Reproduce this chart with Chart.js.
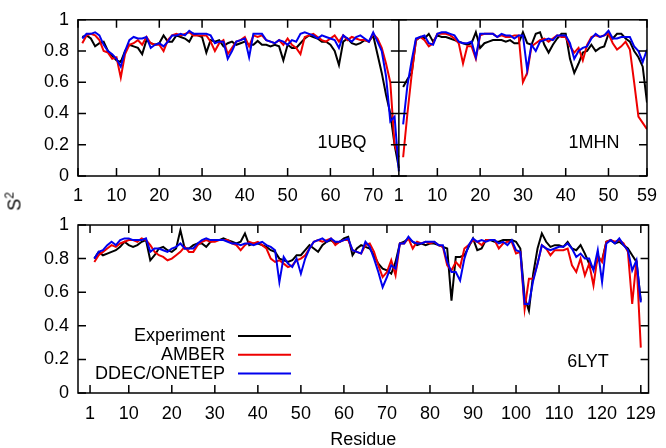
<!DOCTYPE html>
<html>
<head>
<meta charset="utf-8">
<script src="https://cdn.jsdelivr.net/npm/chart.js@4.4.1/dist/chart.umd.min.js"></script>
<style>
body { margin: 0; background: #fff; }
#wrap { position: relative; width: 666px; height: 448px; background: #fff; font-family: "Liberation Sans", Arial, sans-serif; }
#top { position: absolute; left: 0; top: 0; }
#bottom { position: absolute; left: 0; top: 205px; }
#ylab { position: absolute; left: -8px; top: 188px; width: 40px; text-align: center; font-size: 18px; line-height: 22px; transform: rotate(-90deg); color: #000; }
#ylab sup { font-size: 12px; }
</style>
</head>
<body>
<div id="wrap">
  <canvas id="top" width="666" height="205"></canvas>
  <canvas id="bottom" width="666" height="243"></canvas>
  <div id="ylab">S<sup>2</sup></div>
</div>
<script>
// series labels
var seriesNames = ['Experiment', 'AMBER', 'DDEC/ONETEP'];
var seriesColors = ['#000000', '#ee0000', '#0000ee'];

// tick labels
var ubqTicks = [1, 10, 20, 30, 40, 50, 60, 70];
var mhnTicks = [1, 10, 20, 30, 40, 50, 59];
var lytTicks = [1, 10, 20, 30, 40, 50, 60, 70, 80, 90, 100, 110, 120, 129];
var yTicks = [0, 0.2, 0.4, 0.6, 0.8, 1];

// 1UBQ, residues 1-76
var ubqExp = [null, 0.89, 0.90, 0.88, 0.83, 0.85, 0.86, 0.80, 0.77, 0.74,
  0.73, 0.80, 0.84, 0.83, 0.82, 0.78, 0.87, 0.85, 0.84, 0.85,
  0.90, 0.86, 0.86, 0.90, 0.89, 0.88, 0.86, 0.91, 0.90, 0.89,
  0.79, 0.87, 0.86, 0.87, 0.83, 0.85, 0.86, 0.84, 0.85, 0.86,
  0.84, 0.84, 0.865, 0.84, 0.84, 0.83, 0.84, 0.83, 0.74, 0.84,
  0.82, 0.82, 0.85, 0.88, 0.90, 0.89, 0.88, 0.86, 0.86, 0.84,
  0.80, 0.71, 0.86, 0.88, 0.85, 0.84, 0.85, 0.87, 0.86, 0.90,
  0.78, 0.66, 0.52, 0.40, 0.20, 0.05];
var ubqAmber = [null, 0.85, 0.90, 0.91, 0.90, 0.87, 0.80, 0.79, 0.75, 0.76,
  0.63, 0.78, 0.84, 0.85, 0.87, 0.84, 0.89, 0.85, 0.84, 0.84,
  0.80, 0.87, 0.90, 0.91, 0.90, 0.91, 0.92, 0.90, 0.90, 0.90,
  0.90, 0.86, 0.80, 0.85, 0.87, 0.78, 0.82, 0.86, 0.87, 0.89,
  0.83, 0.90, 0.89, 0.90, 0.87, 0.86, 0.85, 0.87, 0.84, 0.88,
  0.84, 0.82, 0.78, 0.89, 0.90, 0.91, 0.89, 0.87, 0.86, 0.88,
  0.90, 0.86, 0.90, 0.87, 0.89, 0.88, 0.87, 0.87, 0.86, 0.91,
  0.88, 0.82, 0.72, 0.60, 0.20, 0.12];
var ubqDdec = [null, 0.88, 0.91, 0.91, 0.92, 0.90, 0.84, 0.80, 0.78, 0.75,
  0.70, 0.80, 0.87, 0.89, 0.88, 0.88, 0.89, 0.82, 0.84, 0.85,
  0.83, 0.86, 0.90, 0.90, 0.91, 0.90, 0.93, 0.91, 0.91, 0.91,
  0.91, 0.90, 0.85, 0.86, 0.86, 0.75, 0.80, 0.86, 0.87, 0.88,
  0.76, 0.91, 0.91, 0.91, 0.87, 0.86, 0.85, 0.87, 0.86, 0.84,
  0.87, 0.86, 0.91, 0.92, 0.91, 0.90, 0.88, 0.90, 0.89, 0.88,
  0.87, 0.82, 0.90, 0.88, 0.86, 0.89, 0.90, 0.88, 0.86, 0.92,
  0.86, 0.80, 0.64, 0.35, 0.38, 0.03];

// 1MHN, residues 1-59
var mhnExp = [null, 0.57, 0.62, 0.66, 0.87, 0.89, 0.88, 0.91, 0.86, 0.90,
  0.89, 0.89, 0.88, 0.87, 0.86, 0.85, 0.84, 0.85, 0.92, 0.82,
  0.85, 0.86, 0.87, 0.87, 0.87, 0.86, 0.87, 0.85, 0.85, 0.92,
  0.85, 0.84, 0.91, 0.92, 0.84, 0.79, 0.84, 0.88, 0.91, 0.91,
  0.75, 0.66, 0.72, 0.79, 0.80, 0.84, 0.80, 0.82, 0.83, 0.91,
  0.88, 0.91, 0.91, 0.88, 0.86, 0.80, 0.76, 0.70, 0.47];
var mhnAmber = [null, 0.12, 0.40, 0.65, 0.87, 0.89, 0.87, 0.83, 0.85, 0.91,
  0.91, 0.91, 0.90, 0.88, 0.85, 0.72, 0.83, 0.83, 0.75, 0.90,
  0.91, 0.91, 0.91, 0.89, 0.90, 0.89, 0.89, 0.90, 0.90, 0.60,
  0.66, 0.83, 0.85, 0.87, 0.88, 0.86, 0.88, 0.90, 0.89, 0.89,
  0.83, 0.79, 0.82, 0.74, 0.84, 0.89, 0.90, 0.89, 0.90, 0.91,
  0.85, 0.81, 0.83, 0.86, 0.81, 0.60, 0.38, 0.34, 0.30];
var mhnDdec = [null, 0.33, 0.58, 0.74, 0.88, 0.89, 0.90, 0.85, 0.84, 0.91,
  0.92, 0.92, 0.91, 0.90, 0.86, 0.85, 0.85, 0.86, 0.76, 0.91,
  0.91, 0.91, 0.91, 0.89, 0.91, 0.90, 0.90, 0.88, 0.90, 0.90,
  0.68, 0.84, 0.80, 0.86, 0.87, 0.88, 0.87, 0.90, 0.90, 0.90,
  0.85, 0.75, 0.80, 0.82, 0.83, 0.88, 0.91, 0.89, 0.90, 0.93,
  0.88, 0.88, 0.89, 0.89, 0.89, 0.83, 0.80, 0.73, 0.81];

// 6LYT, residues 1-129
var lytExp = [null, 0.80, 0.84, 0.82, 0.83, 0.84, 0.85, 0.87, 0.90, 0.88,
  0.87, 0.88, 0.90, 0.91, 0.79, 0.82, 0.86, 0.87, 0.85, 0.84,
  0.86, 0.97, 0.86, 0.86, 0.88, 0.89, 0.89, 0.87, 0.90, 0.91,
  0.91, 0.92, 0.91, 0.90, 0.89, 0.90, 0.95, 0.88, 0.89, 0.89,
  0.88, 0.87, 0.85, 0.84, 0.80, 0.79, 0.78, 0.79, 0.82, 0.82,
  0.85, 0.88, 0.86, 0.84, 0.88, 0.90, 0.91, 0.89, 0.90, 0.92,
  0.93, 0.82, 0.86, 0.88, 0.87, 0.86, 0.82, 0.77, 0.74, 0.73,
  0.71, 0.78, 0.89, 0.90, 0.92, 0.90, 0.88, 0.89, 0.88, 0.89,
  0.89, 0.88, 0.87, 0.86, 0.55, 0.81, 0.81, 0.82, 0.87, 0.92,
  0.85, 0.86, 0.91, 0.91, 0.90, 0.90, 0.91, 0.91, 0.91, 0.90,
  0.86, 0.57, 0.49, 0.71, 0.86, 0.95, 0.90, 0.87, 0.88, 0.88,
  0.87, 0.90, 0.86, 0.85, 0.88, 0.83, 0.77, 0.74, 0.79, 0.79,
  0.90, 0.91, 0.89, 0.90, 0.88, 0.86, 0.82, 0.78, 0.55];
var lytAmber = [null, 0.78, 0.82, 0.84, 0.86, 0.88, 0.87, 0.89, 0.90, 0.91,
  0.91, 0.90, 0.92, 0.91, 0.88, 0.84, 0.82, 0.81, 0.79, 0.80,
  0.82, 0.84, 0.87, 0.84, 0.84, 0.88, 0.90, 0.91, 0.90, 0.90,
  0.91, 0.91, 0.91, 0.89, 0.88, 0.85, 0.88, 0.90, 0.89, 0.90,
  0.88, 0.86, 0.80, 0.78, 0.79, 0.77, 0.75, 0.76, 0.79, 0.80,
  0.82, 0.86, 0.90, 0.91, 0.90, 0.91, 0.92, 0.88, 0.90, 0.91,
  0.91, 0.85, 0.84, 0.83, 0.88, 0.89, 0.84, 0.76, 0.69, 0.72,
  0.79, 0.70, 0.89, 0.89, 0.92, 0.86, 0.90, 0.89, 0.90, 0.89,
  0.90, 0.88, 0.87, 0.76, 0.73, 0.78, 0.75, 0.86, 0.88, 0.91,
  0.90, 0.88, 0.91, 0.91, 0.91, 0.86, 0.89, 0.90, 0.90, 0.83,
  0.84, 0.50, 0.68, 0.68, 0.77, 0.88, 0.86, 0.82, 0.85, 0.85,
  0.85, 0.86, 0.76, 0.72, 0.80, 0.70, 0.77, 0.64, 0.82, 0.78,
  0.90, 0.91, 0.90, 0.91, 0.89, 0.84, 0.53, 0.79, 0.27];
var lytDdec = [null, 0.80, 0.84, 0.85, 0.88, 0.90, 0.88, 0.91, 0.92, 0.92,
  0.91, 0.91, 0.91, 0.92, 0.84, 0.86, 0.86, 0.85, 0.84, 0.86,
  0.87, 0.89, 0.86, 0.86, 0.86, 0.89, 0.91, 0.92, 0.91, 0.91,
  0.91, 0.91, 0.90, 0.89, 0.89, 0.88, 0.89, 0.89, 0.88, 0.89,
  0.90, 0.88, 0.87, 0.85, 0.66, 0.81, 0.77, 0.75, 0.80, 0.71,
  0.80, 0.86, 0.90, 0.91, 0.92, 0.90, 0.92, 0.90, 0.90, 0.91,
  0.92, 0.85, 0.84, 0.83, 0.90, 0.87, 0.80, 0.72, 0.63, 0.69,
  0.76, 0.74, 0.89, 0.89, 0.93, 0.90, 0.89, 0.89, 0.90, 0.90,
  0.90, 0.88, 0.88, 0.78, 0.72, 0.72, 0.67, 0.80, 0.88, 0.92,
  0.90, 0.91, 0.90, 0.91, 0.91, 0.89, 0.90, 0.88, 0.91, 0.85,
  0.84, 0.53, 0.53, 0.67, 0.77, 0.88, 0.86, 0.85, 0.86, 0.87,
  0.87, 0.89, 0.86, 0.81, 0.83, 0.80, 0.80, 0.73, 0.85, 0.66,
  0.89, 0.91, 0.89, 0.92, 0.88, 0.85, 0.73, 0.79, 0.54];

// 1MHN is drawn right after 1UBQ on the same axis
var mhnOffset = 75;

Chart.defaults.font.family = '"Liberation Sans", Arial, sans-serif';
Chart.defaults.font.size = 18;
Chart.defaults.color = '#000';

function toPoints(vals, offset) {
  return vals.map(function (v, i) { return { x: i + 1 + offset, y: v }; });
}

function lineSet(label, vals, k, offset) {
  return {
    label: label,
    data: toPoints(vals, offset),
    borderColor: seriesColors[k],
    borderWidth: 2,
    pointRadius: 0,
    fill: false,
    tension: 0,
    order: 3 - k
  };
}

// frame, inward ticks, panel names and legend, gnuplot style
var framePlugin = {
  id: 'frame',
  afterDatasetsDraw: function (chart, args, opts) {
    var ctx = chart.ctx, a = chart.chartArea;
    var xs = chart.scales.x, ys = chart.scales.y;
    var tl = 8;
    ctx.save();
    ctx.strokeStyle = '#000';
    ctx.lineWidth = 1.5;
    ctx.strokeRect(a.left, a.top, a.right - a.left, a.bottom - a.top);
    ctx.beginPath();
    xs.ticks.forEach(function (t) {
      var px = xs.getPixelForValue(t.value);
      ctx.moveTo(px, a.bottom); ctx.lineTo(px, a.bottom - tl);
      ctx.moveTo(px, a.top); ctx.lineTo(px, a.top + tl);
    });
    ys.ticks.forEach(function (t) {
      var py = ys.getPixelForValue(t.value);
      ctx.moveTo(a.left, py); ctx.lineTo(a.left + tl, py);
      ctx.moveTo(a.right, py); ctx.lineTo(a.right - tl, py);
      if (opts.split) {
        var sx = xs.getPixelForValue(opts.split);
        ctx.moveTo(sx - tl, py); ctx.lineTo(sx + tl, py);
      }
    });
    if (opts.split) {
      var sx2 = xs.getPixelForValue(opts.split);
      ctx.moveTo(sx2, a.top); ctx.lineTo(sx2, a.bottom);
    }
    ctx.stroke();

    ctx.fillStyle = '#000';
    ctx.font = '18px "Liberation Sans", Arial, sans-serif';
    ctx.textBaseline = 'alphabetic';
    ctx.textAlign = 'center';
    (opts.names || []).forEach(function (n) { ctx.fillText(n.text, n.x, n.y); });

    if (opts.legend) {
      var lg = opts.legend;
      ctx.textBaseline = 'middle';
      ctx.textAlign = 'right';
      seriesNames.forEach(function (name, k) {
        var yy = lg.y + k * lg.gap;
        ctx.fillText(name, lg.x, yy);
        ctx.strokeStyle = seriesColors[k];
        ctx.lineWidth = 2;
        ctx.beginPath();
        ctx.moveTo(lg.x + 13, yy); ctx.lineTo(lg.x + 66, yy);
        ctx.stroke();
      });
    }
    if (opts.xTitle) {
      ctx.textAlign = 'center';
      ctx.textBaseline = 'alphabetic';
      ctx.fillText(opts.xTitle.text, (a.left + a.right) / 2, opts.xTitle.y);
    }
    ctx.restore();
  }
};

function makeOptions(xMin, xMax, tickVals, labelFn, xHeight, xPad, padTop, frameOpts) {
  return {
    responsive: false,
    animation: false,
    events: [],
    layout: { padding: { top: padTop, right: 13, left: 0, bottom: 0 } },
    scales: {
      x: {
        type: 'linear', min: xMin, max: xMax,
        grid: { display: false, drawTicks: false },
        border: { display: false },
        afterBuildTicks: function (s) { s.ticks = tickVals.map(function (v) { return { value: v }; }); },
        afterFit: function (s) { s.height = xHeight; },
        ticks: { autoSkip: false, maxRotation: 0, padding: xPad, callback: labelFn }
      },
      y: {
        min: 0, max: 1,
        grid: { display: false, drawTicks: false },
        border: { display: false },
        afterBuildTicks: function (s) { s.ticks = yTicks.map(function (v) { return { value: v }; }); },
        afterFit: function (s) { s.width = 78; },
        ticks: { padding: 9, callback: function (v) { return String(+v.toFixed(1)); } }
      }
    },
    plugins: { legend: { display: false }, tooltip: { enabled: false }, frame: frameOpts }
  };
}

var topTickVals = ubqTicks.concat(mhnTicks.map(function (r) { return r + mhnOffset; }));

new Chart(document.getElementById('top'), {
  type: 'line',
  data: {
    datasets: [
      lineSet(seriesNames[0], ubqExp, 0, 0),
      lineSet(seriesNames[1], ubqAmber, 1, 0),
      lineSet(seriesNames[2], ubqDdec, 2, 0),
      lineSet(seriesNames[0], mhnExp, 0, mhnOffset),
      lineSet(seriesNames[1], mhnAmber, 1, mhnOffset),
      lineSet(seriesNames[2], mhnDdec, 2, mhnOffset)
    ]
  },
  options: makeOptions(1, 59 + mhnOffset, topTickVals,
    function (v) { return v <= mhnOffset ? v : v - mhnOffset; }, 29, 9, 7,
    { split: 1 + mhnOffset, names: [{ text: '1UBQ', x: 342, y: 148 }, { text: '1MHN', x: 594, y: 148 }] }),
  plugins: [framePlugin]
});

new Chart(document.getElementById('bottom'), {
  type: 'line',
  data: {
    datasets: [
      lineSet(seriesNames[0], lytExp, 0, 0),
      lineSet(seriesNames[1], lytAmber, 1, 0),
      lineSet(seriesNames[2], lytDdec, 2, 0)
    ]
  },
  options: makeOptions(-1.8, 130.8, lytTicks, function (v) { return v; }, 55, 10, 20,
    { names: [{ text: '6LYT', x: 588, y: 162 }],
      legend: { x: 225, y: 131, gap: 18.8 },
      xTitle: { text: 'Residue', y: 240 } }),
  plugins: [framePlugin]
});
</script>
</body>
</html>
